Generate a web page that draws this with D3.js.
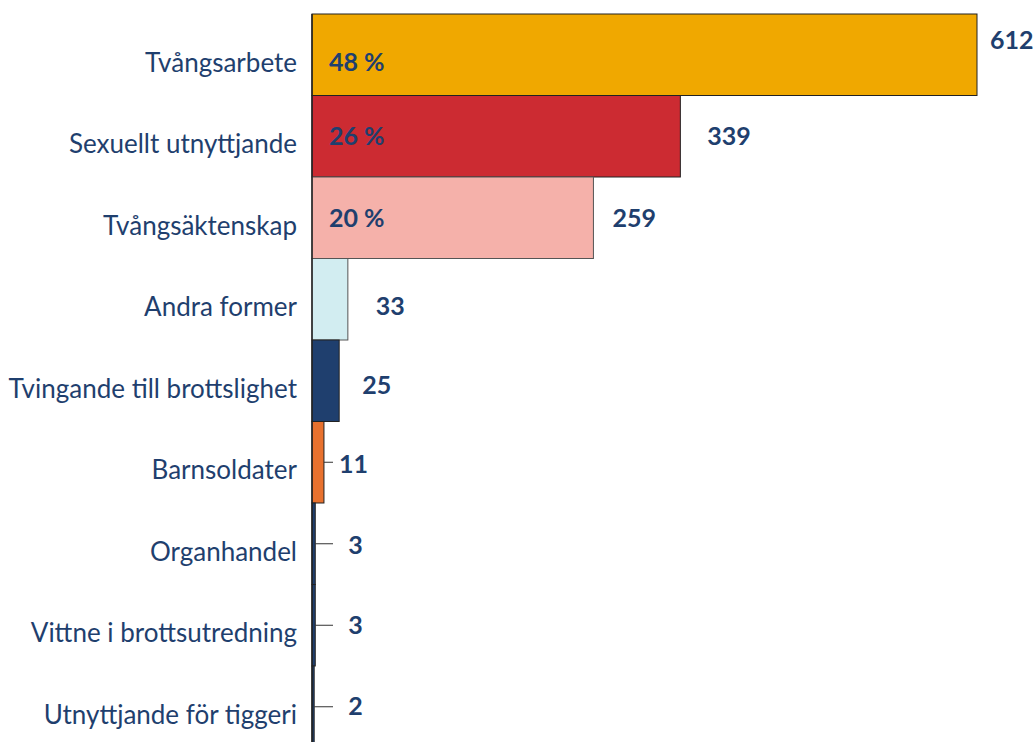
<!DOCTYPE html>
<html>
<head>
    <meta charset="utf-8">
    <title>Människohandel</title>
    <script src="https://d3js.org/d3.v7.min.js"></script>
    <style>
        body { margin: 0; background: #fff; }
        svg { display: block; font-family: Lato, "Noto Sans", sans-serif; }
        .cat { font-size: 26px; fill: #1f3f6e; }
        .val { font-size: 25px; font-weight: bold; fill: #1f3f6e; }
        .pct { font-size: 25px; font-weight: bold; fill: #1f3f6e; }
    </style>
</head>
<body>
<div id="chart"></div>
<script>
    const categories = ["Tvångsarbete", "Sexuellt utnyttjande", "Tvångsäktenskap", "Andra former",
        "Tvingande till brottslighet", "Barnsoldater", "Organhandel", "Vittne i brottsutredning",
        "Utnyttjande för tiggeri"];
    const values = [612, 339, 259, 33, 25, 11, 3, 3, 2];
    const percents = ["48 %", "26 %", "20 %", null, null, null, null, null, null];
    const colors = ["#f0a800", "#cc2b32", "#f5b1aa", "#d2edf1", "#1f3f6e", "#e8712e", "#1f3f6e", "#1f3f6e", "#1f3f6e"];

    // label nudges (px from bar end) and vertical nudges
    const labelDx = [13, 27, 19, 28, 23, 15, 33, 33, 34];
    const labelDy = [-15, 0, 0, 7, 4, 2, 1, 0, -1];

    const width = 1036, height = 742;
    const marginLeft = 312, marginTop = 14, band = 81.5;

    const svg = d3.select("#chart").append("svg")
        .attr("width", width)
        .attr("height", height);

    const x = d3.scaleLinear().domain([0, 612]).range([marginLeft, 977]);
    const y = d3.scaleBand().domain(categories).range([marginTop, marginTop + band * categories.length]).padding(0);

    const data = categories.map((c, i) => ({ cat: c, v: values[i], pct: percents[i], color: colors[i], i: i }));

    svg.selectAll("rect.bar")
        .data(data)
        .enter().append("rect")
        .attr("class", "bar")
        .attr("x", x(0))
        .attr("y", d => y(d.cat))
        .attr("width", d => x(d.v) - x(0))
        .attr("height", y.bandwidth())
        .attr("fill", d => d.color)
        .attr("stroke", d => d.i === 2 || d.i === 3 ? "#555" : "#222")
        .attr("stroke-width", 1);

    // leader lines for the small bars
    svg.selectAll("line.leader")
        .data(data.filter(d => d.v < 20))
        .enter().append("line")
        .attr("class", "leader")
        .attr("x1", d => x(d.v))
        .attr("x2", 333)
        .attr("y1", d => y(d.cat) + y.bandwidth() / 2)
        .attr("y2", d => y(d.cat) + y.bandwidth() / 2)
        .attr("stroke", "#333")
        .attr("stroke-width", 1);

    // axis line
    svg.append("line")
        .attr("x1", marginLeft).attr("x2", marginLeft)
        .attr("y1", marginTop).attr("y2", height)
        .attr("stroke", "#222")
        .attr("stroke-width", 1.5);

    svg.selectAll("text.cat")
        .data(data)
        .enter().append("text")
        .attr("class", "cat")
        .attr("x", 297)
        .attr("y", d => y(d.cat) + y.bandwidth() / 2 + 8)
        .attr("dy", "0.35em")
        .attr("text-anchor", "end")
        .text(d => d.cat);

    svg.selectAll("text.val")
        .data(data)
        .enter().append("text")
        .attr("class", "val")
        .attr("x", d => x(d.v) + labelDx[d.i])
        .attr("y", d => y(d.cat) + y.bandwidth() / 2 + labelDy[d.i])
        .attr("dy", "0.35em")
        .text(d => d.v);

    svg.selectAll("text.pct")
        .data(data.filter(d => d.pct))
        .enter().append("text")
        .attr("class", "pct")
        .attr("x", 329)
        .attr("y", d => y(d.cat) + y.bandwidth() / 2 + (d.i === 0 ? 7 : 0))
        .attr("dy", "0.35em")
        .text(d => d.pct);
</script>
</body>
</html>
